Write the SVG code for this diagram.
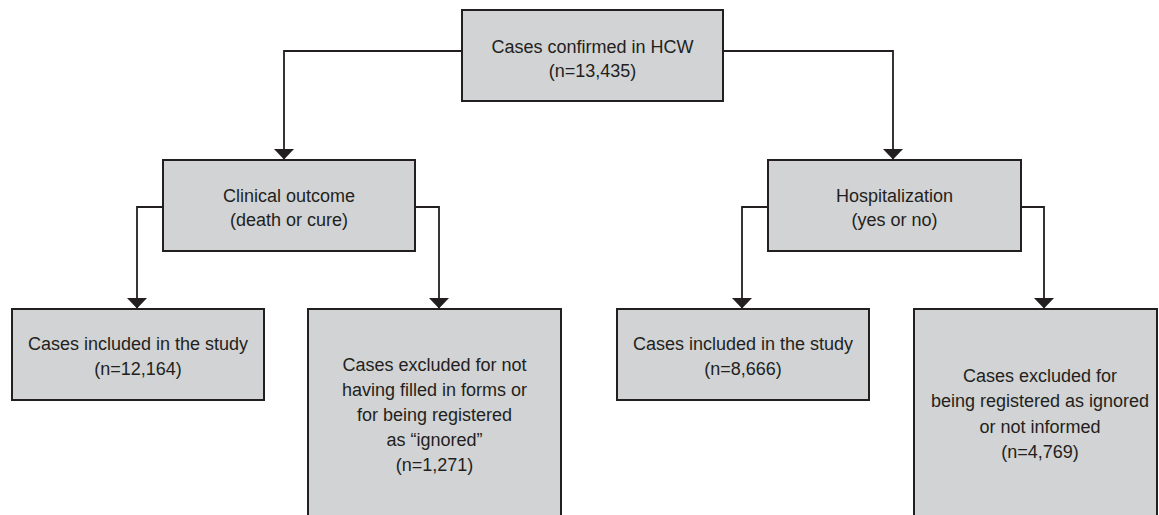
<svg xmlns="http://www.w3.org/2000/svg" width="1159" height="515" viewBox="0 0 1159 515">
<style>
.box{fill:#d1d3d4;stroke:#231f20;stroke-width:2}
.lbl{font-family:"Liberation Sans",Arial,sans-serif;font-size:18px;fill:#231f20;text-anchor:middle}
.con{fill:none;stroke:#231f20;stroke-width:1.8}
</style>
<defs>
<marker id="arr" markerUnits="userSpaceOnUse" markerWidth="11" markerHeight="21" viewBox="0 0 11 21" refX="10.5" refY="10.5" orient="auto">
<path d="M0,0 L11,10.5 L0,21 Z" fill="#231f20"/>
</marker>
</defs>
<rect width="1159" height="515" fill="#ffffff"/>
<g id="connectors">
<polyline class="con" points="462,51 284,51 284,159" marker-end="url(#arr)"/>
<polyline class="con" points="723,51 893,51 893,159" marker-end="url(#arr)"/>
<polyline class="con" points="163,207 137,207 137,308" marker-end="url(#arr)"/>
<polyline class="con" points="415,207 439,207 439,308" marker-end="url(#arr)"/>
<polyline class="con" points="768,207 742,207 742,308" marker-end="url(#arr)"/>
<polyline class="con" points="1021,207 1044,207 1044,308" marker-end="url(#arr)"/>
</g>
<g id="n-top">
<rect class="box" x="462" y="10" width="261" height="91"/>
<text class="lbl" x="592.5" y="53">Cases confirmed in HCW</text>
<text class="lbl" x="592.5" y="77">(n=13,435)</text>
</g>
<g id="n-clinical">
<rect class="box" x="163" y="160" width="252" height="91"/>
<text class="lbl" x="289" y="202">Clinical outcome</text>
<text class="lbl" x="289" y="226">(death or cure)</text>
</g>
<g id="n-hosp">
<rect class="box" x="768" y="160" width="253" height="91"/>
<text class="lbl" x="894.5" y="202">Hospitalization</text>
<text class="lbl" x="894.5" y="226">(yes or no)</text>
</g>
<g id="n-incl1">
<rect class="box" x="12" y="309" width="252" height="91"/>
<text class="lbl" x="138" y="350">Cases included in the study</text>
<text class="lbl" x="138" y="375">(n=12,164)</text>
</g>
<g id="n-excl1">
<rect class="box" x="308" y="309" width="253" height="230"/>
<text class="lbl" x="434.5" y="371">Cases excluded for not</text>
<text class="lbl" x="434.5" y="396">having filled in forms or</text>
<text class="lbl" x="434.5" y="421">for being registered</text>
<text class="lbl" x="434.5" y="446">as “ignored”</text>
<text class="lbl" x="434.5" y="471">(n=1,271)</text>
</g>
<g id="n-incl2">
<rect class="box" x="617" y="309" width="252" height="91"/>
<text class="lbl" x="743" y="350">Cases included in the study</text>
<text class="lbl" x="743" y="375">(n=8,666)</text>
</g>
<g id="n-excl2">
<rect class="box" x="914" y="309" width="243" height="230"/>
<text class="lbl" x="1040" y="382">Cases excluded for</text>
<text class="lbl" x="1040" y="407">being registered as ignored</text>
<text class="lbl" x="1040" y="433">or not informed</text>
<text class="lbl" x="1040" y="458">(n=4,769)</text>
</g>
</svg>
